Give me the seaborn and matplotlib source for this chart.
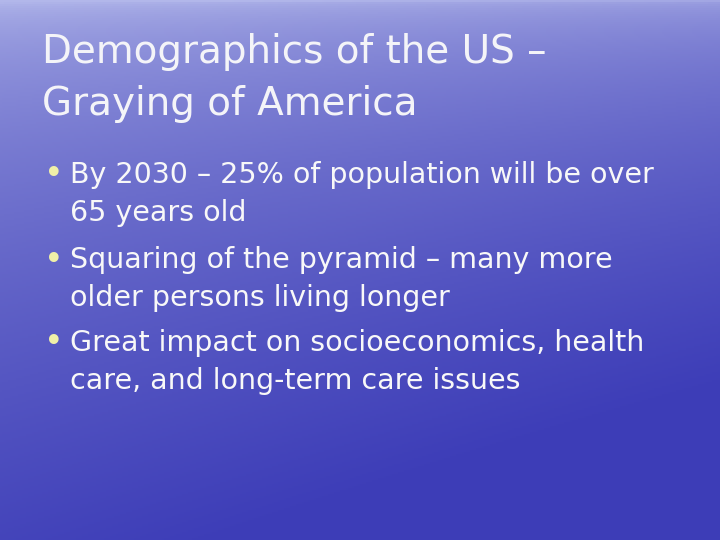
import numpy as np
import matplotlib
matplotlib.use("Agg")
import matplotlib.pyplot as plt
import seaborn as sns

title_lines = ["Demographics of the US –", "Graying of America"]
title_y = [52, 104]
bullet_lines = [
    ["By 2030 – 25% of population will be over", "65 years old"],
    ["Squaring of the pyramid – many more", "older persons living longer"],
    ["Great impact on socioeconomics, health", "care, and long-term care issues"],
]
bullet_y = [175, 260, 343]
line_gap = 38

sns.set_theme(style="white")
plt.rcParams["font.family"] = ["DejaVu Sans"]

fig = plt.figure(figsize=(7.2, 5.4), dpi=100)
ax = fig.add_axes([0, 0, 1, 1])
ax.set_xlim(0, 720)
ax.set_ylim(540, 0)
ax.axis("off")

# background: light hazy top-left fading to deep blue
yy = np.linspace(0, 1, 270)[:, None]
xx = np.linspace(0, 1, 360)[None, :]
top = np.array([0.70, 0.72, 0.92])
bot = np.array([0.24, 0.24, 0.72])
t = np.clip(yy ** 0.45 + 0.2 * (xx - 0.3), 0, 1)
img = top * (1 - t[..., None]) + bot * t[..., None]
ax.imshow(img, extent=[0, 720, 540, 0], aspect="auto", zorder=0)

for s, y in zip(title_lines, title_y):
    ax.text(42, y, s, fontsize=28, color="#f4f4f8", va="center", ha="left")

for lines, y in zip(bullet_lines, bullet_y):
    ax.text(44, y, "•", fontsize=24, color="#f0f0a8", va="center", ha="left")
    for i, s in enumerate(lines):
        ax.text(70, y + i * line_gap, s, fontsize=20.5, color="#f8f8f8",
                va="center", ha="left")

fig.savefig("out.png", dpi=100)
